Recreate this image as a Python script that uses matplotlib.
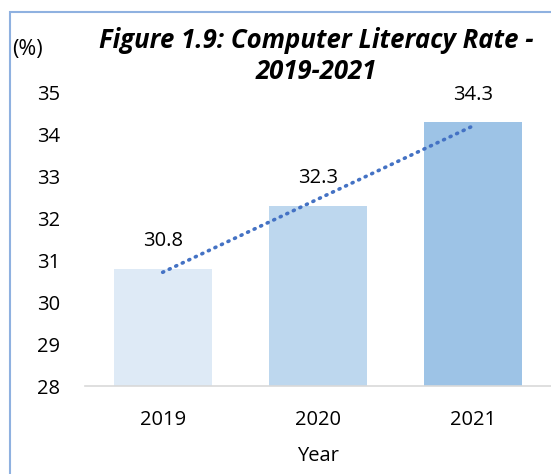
import numpy as np
import matplotlib.pyplot as plt
from matplotlib.patches import Rectangle

years = ["2019", "2020", "2021"]
rates = [30.8, 32.3, 34.3]
bar_colors = ["#DEEAF6", "#BDD7EE", "#9DC3E6"]
yticks = [28, 29, 30, 31, 32, 33, 34, 35]

plt.rcParams['font.family'] = ['Open Sans', 'DejaVu Sans']

fig = plt.figure(figsize=(5.51, 4.74), dpi=100)
W, H = 551, 474
ax = fig.add_axes([85 / W, 1 - 386 / H, (551 - 85) / W, (386 - 93) / H])

x = np.arange(len(years))
ax.bar(x, rates, width=0.63, color=bar_colors, zorder=2)

# linear trend line like Excel's
k, b = np.polyfit(x, rates, 1)
ax.plot(x, k * x + b, color="#4472C4", lw=2.6, linestyle=(0, (0.3, 1.7)),
        dash_capstyle='round', zorder=3)

for xi, v in zip(x, rates):
    ax.annotate(f"{v}", (xi, v), xytext=(0, 20), textcoords="offset points",
                ha="center", va="center", fontsize=14.5, color="#000000")

ax.set_xlim(-0.5, 2.5)
ax.set_ylim(28, 35)
ax.set_yticks(yticks)
ax.set_xticks(x)
ax.set_xticklabels(years)
ax.tick_params(axis='both', length=0, labelsize=14.5, colors="#000000")
ax.tick_params(axis='x', pad=17)
ax.tick_params(axis='y', pad=18)
for s in ["top", "right", "left"]:
    ax.spines[s].set_visible(False)
ax.spines["bottom"].set_color("#D9D9D9")
ax.spines["bottom"].set_linewidth(1.2)
ax.set_xlabel("Year", fontsize=14.5, labelpad=12)

fig.text(316 / W, 1 - 56 / H, "Figure 1.9: Computer Literacy Rate -\n2019-2021",
         ha="center", va="center", fontsize=18.5, fontweight="bold",
         fontstyle="italic", linespacing=1.15)
fig.text(12 / W, 1 - 50 / H, "(%)", ha="left", va="center", fontsize=15.5)

fig.patches.append(Rectangle((10 / W, -0.1), 1.2, 1 - 12 / H + 0.1,
                             transform=fig.transFigure, fill=False,
                             edgecolor="#8FB1E0", lw=1.5))

fig.savefig("out.png", dpi=100)
